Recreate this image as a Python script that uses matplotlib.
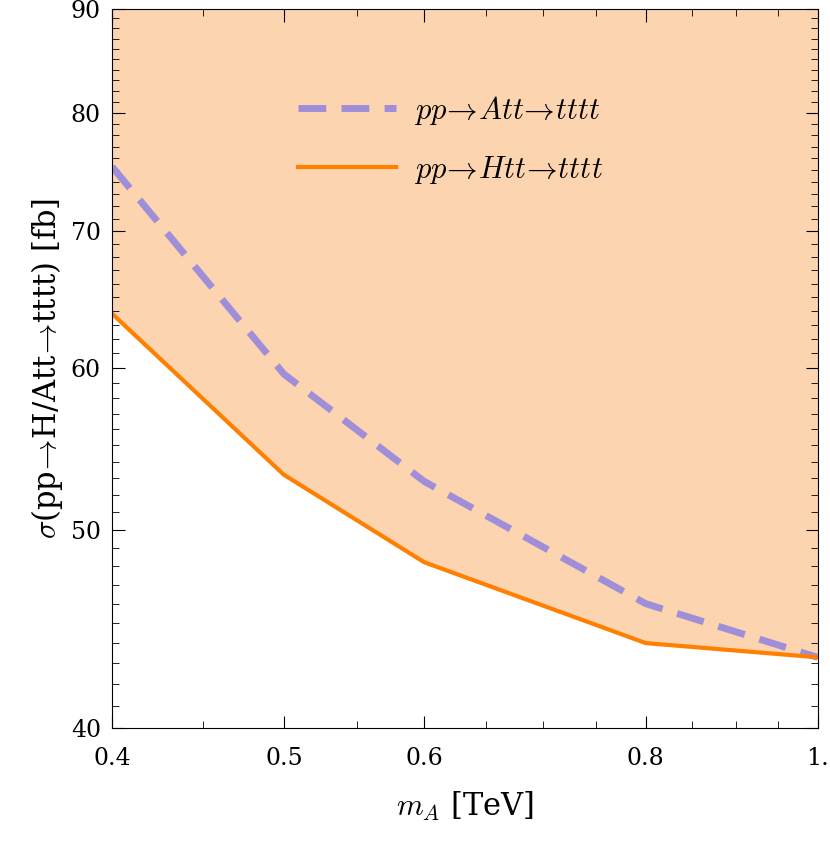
import matplotlib
matplotlib.use("Agg")
import matplotlib.pyplot as plt
from matplotlib.ticker import FixedLocator, NullFormatter

plt.rcParams['mathtext.fontset'] = 'cm'
plt.rcParams['font.family'] = 'serif'
plt.rcParams['font.serif'] = ['DejaVu Serif']

m_A = [0.4, 0.5, 0.6, 0.8, 1.0]
sigma_A = [75.3, 59.6, 52.8, 46.0, 43.3]
sigma_H = [63.8, 53.2, 48.2, 44.0, 43.3]
xticks = [0.4, 0.5, 0.6, 0.8, 1.0]
xticklabels = ['0.4', '0.5', '0.6', '0.8', '1.']
yticks = [40, 50, 60, 70, 80, 90]

fig, ax = plt.subplots(figsize=(8.3, 8.56), dpi=100)
fig.subplots_adjust(left=0.135, right=0.985, bottom=0.15, top=0.99)
ax.set_xscale('log')
ax.set_yscale('log')
ax.fill_between(m_A, sigma_H, 90, color='#fdd4b0', lw=0)
ax.plot(m_A, sigma_A, '--', color='#a08fd8', lw=5, dashes=(4, 2.2),
        label=r'$pp\!\rightarrow\! Att\!\rightarrow\! tttt$')
ax.plot(m_A, sigma_H, '-', color='#ff8000', lw=3,
        label=r'$pp\!\rightarrow\! Htt\!\rightarrow\! tttt$')
ax.set_xlim(0.4, 1.0)
ax.set_ylim(40, 90)
ax.xaxis.set_major_locator(FixedLocator(xticks))
ax.set_xticklabels(xticklabels)
ax.xaxis.set_minor_locator(FixedLocator([0.45, 0.55, 0.65, 0.7, 0.75, 0.85, 0.9, 0.95]))
ax.xaxis.set_minor_formatter(NullFormatter())
ax.yaxis.set_major_locator(FixedLocator(yticks))
ax.set_yticklabels([str(v) for v in yticks])
ax.yaxis.set_minor_locator(FixedLocator([v for v in range(41, 90) if v % 10]))
ax.yaxis.set_minor_formatter(NullFormatter())
ax.tick_params(which='both', direction='in', top=True, right=True, labelsize=17)
ax.tick_params(which='major', length=9)
ax.tick_params(which='minor', length=5)
ax.tick_params(axis='x', pad=14)
ax.tick_params(axis='y', pad=8)
ax.set_xlabel(r'$m_A$ [TeV]', fontsize=22, labelpad=14)
ax.set_ylabel(r'$\sigma$(pp$\!\rightarrow\!$H/Att$\!\rightarrow\!$tttt) [fb]', fontsize=22)
leg = ax.legend(loc='upper center', bbox_to_anchor=(0.48, 0.92), frameon=False,
                fontsize=22, handlelength=3.2, handletextpad=0.6, labelspacing=0.9)
fig.savefig('out.png', dpi=100)
